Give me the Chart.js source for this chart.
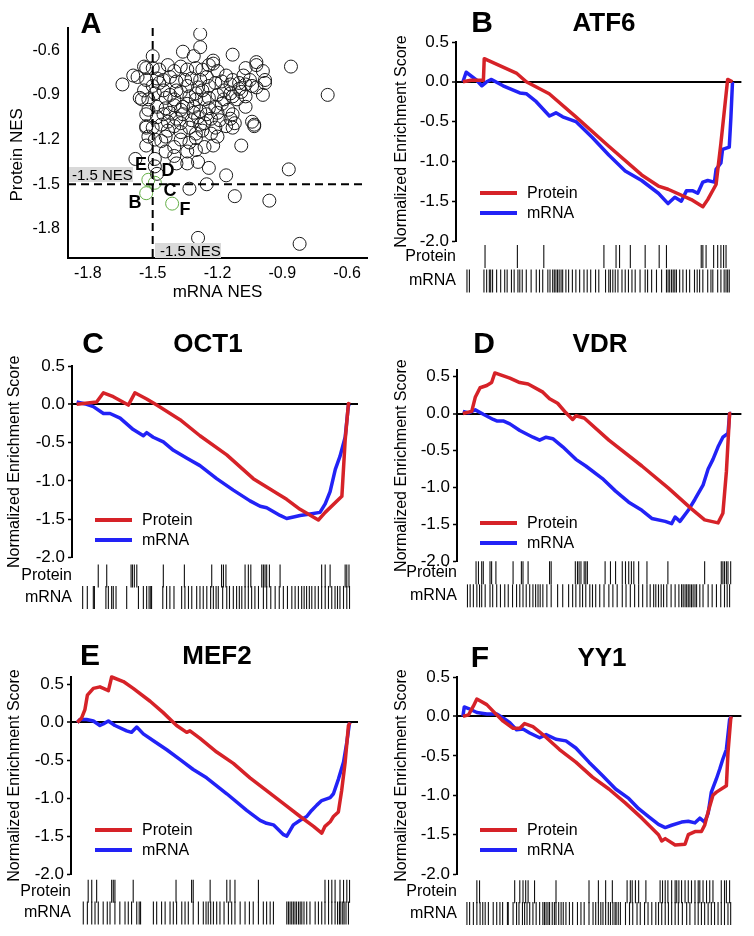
<!DOCTYPE html>
<html>
<head>
<meta charset="utf-8">
<script src="https://cdn.jsdelivr.net/npm/chart.js@4.4.0/dist/chart.umd.min.js"></script>
<style>
  html,body{margin:0;padding:0;background:#fff;}
  body{width:754px;height:936px;position:relative;overflow:hidden;font-family:"Liberation Sans",Arial,Helvetica,sans-serif;color:#000;}
  .panel{position:absolute;}
  .panel canvas{display:block;}
  .t{position:absolute;transform:translate(-50%,-50%);font-weight:bold;line-height:1;white-space:nowrap;z-index:5;}
  .legline{position:absolute;height:4px;width:37px;z-index:5;}
  .legtxt{position:absolute;font-size:16px;line-height:1;transform:translateY(-50%);white-space:nowrap;z-index:5;}
  .nesbox{position:absolute;background:#d9d9d9;font-size:15px;line-height:15px;height:15px;white-space:nowrap;z-index:4;}
</style>
</head>
<body>
<div class="panel" style="left:0;top:0"><canvas id="cA" width="377" height="310"></canvas></div>
<div class="panel" style="left:377px;top:0"><canvas id="cB" width="377" height="310"></canvas></div>
<div class="panel" style="left:0;top:310px"><canvas id="cC" width="377" height="310"></canvas></div>
<div class="panel" style="left:377px;top:310px"><canvas id="cD" width="377" height="310"></canvas></div>
<div class="panel" style="left:0;top:620px"><canvas id="cE" width="377" height="316"></canvas></div>
<div class="panel" style="left:377px;top:620px"><canvas id="cF" width="377" height="316"></canvas></div>

<div class="nesbox" style="left:69px;top:167px;width:61px;padding-left:3px">-1.5 NES</div>
<div class="nesbox" style="left:155px;top:243px;width:61px;padding-left:5px">-1.5 NES</div>

<script>
// ---------------- Panel A data (NES values) ----------------
const scatterMrnaNES = [
  -1.28,-1.28,-1.36,-1.31,-1.13,-1.22,-1.22,-1.02,-1.02,-0.86,
  -1.07,-0.99,-1.08,-0.69,-0.98,-0.98,-0.99,-1.07,-1.04,-1.03,
  -1.03,-1.09,-1.64,-1.59,-1.55,-1.52,-1.53,-1.50,-1.53,-1.52,
  -1.53,-1.58,-1.49,-1.49,-1.48,-1.39,-1.34,-1.29,-1.24,-1.16,
  -1.25,-1.33,-1.12,-0.96,-0.87,-1.29,-0.82,
  -1.54,-1.50,-1.47,-1.43,-1.40,-1.37,-1.34,-1.30,-1.27,-1.24,-1.20,-1.16,-1.13,-1.10,-1.07,-1.04,-1.02,
  -1.57,-1.53,-1.48,-1.45,-1.42,-1.39,-1.35,-1.32,-1.28,-1.25,-1.21,-1.18,-1.14,-1.10,
  -1.56,-1.49,-1.45,-1.42,-1.40,-1.37,-1.33,-1.30,-1.27,-1.24,-1.20,-1.17,-1.14,-1.11,-1.07,
  -1.48,-1.44,-1.40,-1.37,-1.34,-1.31,-1.28,-1.24,-1.21,-1.18,-1.15,-1.13,
  -1.53,-1.48,-1.45,-1.43,-1.39,-1.36,-1.32,-1.29,-1.26,-1.23,-1.19,-1.14,-1.12,
  -1.50,-1.46,-1.43,-1.40,-1.37,-1.33,-1.30,-1.27,-1.23,-1.20,-1.16,-1.13,
  -1.49,-1.46,-1.44,-1.40,-1.37,-1.33,-1.30,-1.26,-1.22,-1.34,-1.44,
  -1.40,-1.30,-1.53,-1.54,-1.50,-1.52,
  -1.39,-1.34,-1.30,-1.26,-1.36,-1.42,-1.31,-1.25,-1.20,-1.37,-1.28,-1.21,-1.17,-1.13,-1.09,-1.05,-1.44,-1.47,-1.29,-1.24
];
const scatterProteinNES = [
  -0.49,-0.58,-0.61,-0.64,-0.63,-0.67,-0.69,-0.68,-0.70,-0.71,
  -0.72,-0.74,-0.77,-0.90,-0.80,-0.82,-0.90,-0.98,-1.08,-1.10,
  -1.11,-1.24,-0.83,-0.77,-0.93,-0.93,-0.72,-0.64,-1.12,-1.18,
  -1.24,-1.33,-1.33,-1.38,-1.43,-1.36,-1.36,-1.35,-1.39,-1.44,
  -1.50,-1.53,-1.58,-1.61,-1.40,-1.86,-1.90,
  -0.71,-0.72,-0.73,-0.70,-0.74,-0.71,-0.73,-0.72,-0.73,-0.70,-0.74,-0.77,-0.80,-0.82,-0.83,-0.84,-0.85,
  -0.78,-0.80,-0.79,-0.80,-0.78,-0.81,-0.80,-0.79,-0.80,-0.78,-0.82,-0.81,-0.83,-0.86,
  -0.92,-0.89,-0.87,-0.90,-0.93,-0.88,-0.91,-0.89,-0.87,-0.92,-0.90,-0.87,-0.89,-0.93,-0.91,
  -0.98,-0.99,-0.97,-1.00,-0.96,-0.98,-1.01,-0.99,-0.98,-0.96,-1.00,-1.03,
  -1.03,-1.05,-1.03,-1.08,-1.06,-1.03,-1.07,-1.05,-1.09,-1.06,-1.07,-1.06,-1.09,
  -1.12,-1.10,-1.14,-1.11,-1.15,-1.12,-1.16,-1.14,-1.16,-1.18,-1.11,-1.12,
  -1.20,-1.21,-1.18,-1.25,-1.20,-1.22,-1.19,-1.25,-1.24,-1.28,-1.28,
  -1.31,-1.27,-1.11,-0.87,-0.84,-1.00,
  -0.87,-0.84,-0.93,-0.93,-0.98,-1.02,-1.02,-1.03,-1.02,-1.09,-1.10,-1.12,-0.93,-0.91,-0.88,-0.80,-0.92,-0.82,-0.85,-0.84
];
const highlightMrnaNES    = [-1.52, -1.49, -1.53, -1.41];
const highlightProteinNES = [-1.47, -1.49, -1.56, -1.63];
const highlightNames      = ['E', 'D', 'B', 'F'];
const scatterXTicks = [-1.8, -1.5, -1.2, -0.9, -0.6];
const scatterYTicks = [-0.6, -0.9, -1.2, -1.5, -1.8];
const nesCutoff = -1.5;

// ---------------- Enrichment panels (rank %, ES) ----------------
const esTicks = [0.5, 0, -0.5, -1, -1.5, -2];
const seriesNames = ['Protein', 'mRNA'];

// ATF6
const atf6ProteinRank = [0,3,7.6,7.9,19.8,23.5,32,41.9,54.1,66.3,72.5,76.1,84.7,89,90.8,93.9,95.7,98.2,100];
const atf6ProteinES   = [0,0.02,0.02,0.29,0.11,0,-0.15,-0.44,-0.81,-1.17,-1.31,-1.35,-1.48,-1.57,-1.48,-1.29,-0.77,0.03,0];
const atf6MrnaRank = [0,1.2,5.1,7,8.8,10.6,14.9,21.1,23.5,27.2,32.1,34.5,37,41.9,48,54.1,60.2,66.3,72.5,76.1,78.6,81,82.9,85.3,87.1,89,90.8,93.3,93.9,95.7,96.3,98.8,99.4,100];
const atf6MrnaES   = [0,0.12,0.02,-0.05,0,0.03,-0.05,-0.14,-0.15,-0.25,-0.43,-0.39,-0.44,-0.5,-0.7,-0.92,-1.12,-1.24,-1.4,-1.53,-1.45,-1.5,-1.37,-1.37,-1.4,-1.26,-1.24,-1.26,-1.1,-1.02,-0.85,-0.82,-0.45,0];
const atf6ProteinHits = [8.2,20.2,30,52.3,56.8,58.1,62.1,67.6,72.8,75.5,88.4,89,90.2,93,94.5,95.7,96.7,97.6];
const atf6MrnaHits = [1.5,2.4,7.8,8.8,9.8,10.3,11,12.5,14,15.5,16.4,18,19,20.4,21.1,22,23.5,25.3,27.2,28.4,29.6,31.5,32.3,33.3,33.9,34.5,35.1,35.7,36.4,37,38.2,39.2,40.6,41.9,43.3,44.9,46.1,47.4,49.2,50.4,52.9,54.1,54.7,55.6,56.5,57.5,59,60.2,61.4,62.7,63.9,65.7,67.6,68.5,70,71.8,73.7,75.5,76.1,76.7,77.4,78,78.6,79.2,80.4,81.6,82.9,84.1,85.9,86.9,87.8,89,90.8,92,92.7,94.5,95.7,96.9,97.6,98.2,98.8];

// OCT1
const oct1ProteinRank = [0,7.3,9.8,13.4,18.9,21.3,25.6,29.3,37.8,45.1,54.9,64.6,69.5,73.2,76.8,81.7,88.4,90.9,97,98.2,99.4,100];
const oct1ProteinES   = [0,0.03,0.15,0.1,-0.01,0.15,0.07,-0.01,-0.2,-0.41,-0.66,-0.97,-1.08,-1.16,-1.24,-1.37,-1.51,-1.41,-1.2,-0.47,0.01,0];
const oct1MrnaRank = [0,3.7,6.1,9.8,12.2,15.9,20.7,24.4,25.6,28,31.7,35.4,40.2,45.1,51.2,57.3,63.4,67.1,69.5,74.4,76.8,79.3,81.7,85.4,89,90.9,92.7,94.6,96.3,98.2,99.4,100];
const oct1MrnaES   = [0.03,0,-0.03,-0.12,-0.12,-0.18,-0.33,-0.41,-0.37,-0.43,-0.49,-0.6,-0.7,-0.8,-0.97,-1.12,-1.26,-1.33,-1.35,-1.45,-1.49,-1.47,-1.45,-1.43,-1.41,-1.3,-1.14,-0.85,-0.68,-0.43,-0.01,0];
const oct1ProteinHits = [7.9,11,19.9,20.4,21.1,22,31.7,39.4,49.4,53,53.7,54.6,61.6,62.8,63.7,67.7,68.3,68.9,69.5,70.5,74.4,89.6,90.9,92.7,98.2,98.8,99.6];
const oct1MrnaHits = [2.2,3.9,6.1,6.5,10.7,11.6,12.8,13.4,14.4,18.3,22.6,24.4,25.6,26.5,27.1,27.4,31.5,32.9,34.1,35.6,38.4,39.6,40.9,42.1,43.9,45.1,46.3,47.6,49,50,51,51.8,53.4,54.9,55.9,57.3,58.5,59.5,60.4,61.6,62.8,64,65.2,66.5,68.3,69.5,71,72.6,74.1,75.6,77.1,78.7,79.9,81.1,82.3,83.2,84.1,85.1,86,87.2,88.4,89.6,90.9,92.1,93.3,94.5,95.4,96.3,97.6,98.8,99.8];

// VDR
const vdrProteinRank = [0,3.3,4.6,6.4,8.9,10.7,11.9,17.5,21.2,24.3,29.8,32.3,35.3,38.4,40.9,42.1,45.2,54.4,66.7,76.6,85.2,90.1,95.1,96.9,98.2,99.4,100];
const vdrProteinES   = [0,0.03,0.22,0.35,0.38,0.42,0.55,0.48,0.42,0.4,0.29,0.2,0.14,0.01,-0.08,-0.03,-0.06,-0.36,-0.71,-1.01,-1.29,-1.44,-1.48,-1.35,-0.79,0,0];
const vdrMrnaRank = [0,2.1,4.6,7.6,11.3,12.6,15,17.5,21.2,26.1,28.6,31,33.5,37.2,42.1,45.8,52,56.9,61.8,66.7,70.4,75.4,77.8,79.1,80.9,84,86.5,89.5,91.4,93.2,95.1,96.9,98.8,99.4,100];
const vdrMrnaES   = [0.03,0.01,0.05,-0.01,-0.08,-0.1,-0.1,-0.14,-0.23,-0.32,-0.36,-0.32,-0.34,-0.45,-0.62,-0.71,-0.88,-1.05,-1.2,-1.31,-1.42,-1.46,-1.49,-1.4,-1.46,-1.31,-1.16,-0.97,-0.75,-0.62,-0.45,-0.32,-0.27,0,0];
const vdrProteinHits = [4.9,5.8,7,7.6,10.1,10.7,12.3,18.7,21.8,22.4,24.3,32.3,32.9,41.9,42.7,43.3,44,45.2,45.8,46.4,53,55,56.9,59.4,60.6,61.8,62.8,63.7,65.5,68.6,76.4,90.1,96.3,96.9,97.5,98.2,98.8,99.8];
const vdrMrnaHits = [1.7,2.7,3.9,5.2,6.2,7,8.3,10.1,11.1,12.6,14,15.6,16.9,18.5,20,21.2,22.4,23.6,24.9,26.1,27.1,28,28.8,29.8,31.3,32.9,35.3,37.2,39.4,40.9,42.1,43.6,44.6,45.8,47.3,48.3,49.5,51,52.6,54.4,55.9,57.5,59.4,60.8,62.4,64,65.5,67,68.6,69.8,71.1,71.9,72.9,73.9,74.8,76,77.6,79.1,80.5,81.5,82.1,82.8,83.4,84,84.6,85.2,85.8,86.5,87.1,88.3,89.5,91.4,92.9,94.5,96.1,97.5,98.5,99.4];

// MEF2
const mef2ProteinRank = [0,1.6,2.8,3.7,5.9,8.3,10.8,11.4,12.6,16.9,20.5,26.7,31.5,36.4,40.1,41.3,45,51.1,57.2,63.3,69.4,75.6,81.7,86.6,89.6,90.8,92.7,93.9,95.7,96.9,98.2,99.4,100];
const mef2ProteinES   = [0,0.06,0.17,0.36,0.45,0.47,0.43,0.42,0.6,0.54,0.45,0.28,0.13,-0.04,-0.13,-0.11,-0.21,-0.39,-0.54,-0.73,-0.9,-1.07,-1.24,-1.37,-1.46,-1.37,-1.31,-1.24,-1.18,-0.9,-0.52,-0.04,0];
const mef2MrnaRank = [0,1,3.4,5.9,8.3,9.5,11.4,13.8,18.1,19.9,21.8,24.2,27.9,32.8,37.7,42.5,47.4,54.8,62.1,67,69.4,71.9,75.6,76.8,79.2,81.7,84.1,85.9,87.8,89.6,92.7,93.9,95.7,97.6,98.8,99.8];
const mef2MrnaES   = [0,0.04,0.04,0.02,-0.04,-0.02,0.02,-0.04,-0.11,-0.13,-0.06,-0.15,-0.24,-0.36,-0.49,-0.62,-0.73,-0.94,-1.16,-1.29,-1.33,-1.35,-1.48,-1.5,-1.35,-1.29,-1.24,-1.16,-1.09,-1.03,-0.99,-0.94,-0.75,-0.52,-0.26,0];
const mef2ProteinHits = [4,5.3,7.1,12.6,13.2,13.8,20.5,36.2,41.9,42.5,48.7,54.8,56,57.8,66.4,90.8,92.1,93.3,94.5,96.3,97.6,98.8,99.8];
const mef2MrnaHits = [2.2,3.7,5.3,6.5,7.7,9.5,11,12,13.8,15.6,17.5,18.7,19.9,21.8,22.7,23.2,27.9,29.1,30.9,32.2,34,35.2,36.4,38.3,39.5,40.7,42.5,44.4,46.2,47.2,48,48.9,49.9,51.1,52.3,53.8,55.4,56.6,57.8,59.7,61.5,63.1,64.5,66.4,68.2,69.4,70.7,71.9,76.8,77.4,78,78.6,79.2,79.8,80.4,81.1,81.7,82.3,83.1,84.1,85.3,87.2,88.4,89.6,90.8,92.1,93.3,94.5,95.4,96.1,96.6,97.3,97.8,98.5,99.4];

// YY1
const yy1ProteinRank = [0,2.1,3.9,5.2,8.9,12.6,15,18.7,21.2,23,26.1,29.8,36,42.1,48.3,54.4,60.6,66.7,72.9,74.1,75.4,79.1,82.8,84,86.5,88.9,90.1,91.4,93.2,94.5,98.2,98.8,99.8,100];
const yy1ProteinES   = [0,0.02,0.13,0.22,0.15,0.02,-0.06,-0.15,-0.15,-0.09,-0.13,-0.23,-0.42,-0.58,-0.77,-0.92,-1.1,-1.29,-1.5,-1.58,-1.55,-1.63,-1.62,-1.5,-1.46,-1.46,-1.38,-1.21,-1.0,-0.96,-0.88,-0.46,-0.04,0];
const yy1MrnaRank = [0,0.5,2.1,5.2,8.9,12.6,15,17.5,20,22.4,24.9,28.6,31,34.7,38.4,42.1,47,52,56.9,61.8,65.5,69.2,72.9,75.4,77.8,81.5,84,86.5,88.3,90.1,91.4,92.6,94.5,95.7,96.9,98.2,99.4,100];
const yy1MrnaES   = [0,0.12,0.1,0.05,0.03,0.03,-0.02,-0.08,-0.17,-0.16,-0.21,-0.27,-0.23,-0.29,-0.31,-0.4,-0.58,-0.75,-0.92,-1.04,-1.17,-1.27,-1.37,-1.41,-1.38,-1.34,-1.33,-1.35,-1.29,-1.34,-1.23,-0.96,-0.79,-0.67,-0.54,-0.42,-0.04,0];
const yy1ProteinHits = [5.2,6.2,19.3,21.2,22.4,23.4,24.3,26.7,34.7,47,50.5,53.2,55.7,61.2,62.4,63.1,64.3,65.5,68.2,73.5,74.4,75.4,76.4,77.8,79.1,79.7,80.5,81.5,82.8,84,85.2,86.5,87.7,88.3,89.5,90.8,92,93.2,96.3,97.5,98.2,99.4];
const yy1MrnaHits = [1.5,2.5,3.9,5.2,6.4,7.4,8.3,9.5,11.3,12.6,13.8,14.8,16.6,16.9,18.7,20,20.9,22.2,23,23.9,24.9,26.1,27.3,28.6,29.8,30.4,31,31.7,32.3,33.3,34.1,34.7,35.7,36.6,37.4,38.4,39.7,40.9,42.7,44,45.2,47,48.5,49.5,50.5,51.4,52.2,53.2,54.2,55,55.9,56.7,57.1,57.9,58.7,60.6,62.1,63.3,64.9,66.1,67.7,69,70.4,71.9,72.9,74.1,75.4,76.6,77.8,79.1,80.3,81.8,83.4,84.6,86.5,87.7,88.9,90.1,91.4,92.6,93.8,95.1,96.3,97.5,98.8,99.8];

// ---------------- styling / layout ----------------
const RED = 'rgb(214,34,40)';
const BLUE = 'rgb(34,34,246)';
const GREEN = 'rgb(100,175,70)';
Chart.defaults.font.family = '"Liberation Sans", Arial, Helvetica, sans-serif';
Chart.defaults.color = '#000';
Chart.defaults.animation = false;

function zip(xs, ys) {
  const n = Math.min(xs.length, ys.length), out = [];
  for (let i = 0; i < n; i++) out.push({x: xs[i], y: ys[i]});
  return out;
}
function rowOf(xs, row) { return xs.map(x => ({x: x, y: row})); }
function noPad(sc) { sc.paddingTop = 0; sc.paddingBottom = 0; sc.paddingLeft = 0; sc.paddingRight = 0; }

// ---------- Panel A ----------
(function () {
  const xMin = -1.892, xMax = -0.508, yMin = -1.995, yMax = -0.451;
  new Chart(document.getElementById('cA'), {
    type: 'scatter',
    data: {datasets: [
      {label: 'cutoff-v', data: [{x: nesCutoff, y: yMax}, {x: nesCutoff, y: yMin}], showLine: true,
       borderColor: '#000', borderWidth: 2, borderDash: [8, 5], pointRadius: 0, clip: false},
      {label: 'cutoff-h', data: [{x: xMin, y: nesCutoff}, {x: xMax, y: nesCutoff}], showLine: true,
       borderColor: '#000', borderWidth: 2, borderDash: [8, 5], pointRadius: 0, clip: false},
      {label: 'highlighted', data: zip(highlightMrnaNES, highlightProteinNES), pointRadius: 6.5,
       pointBorderColor: GREEN, pointBackgroundColor: 'rgba(0,0,0,0)', pointBorderWidth: 1},
      {label: 'TFs', data: zip(scatterMrnaNES, scatterProteinNES), pointRadius: 6.5,
       pointBorderColor: '#1a1a1a', pointBackgroundColor: 'rgba(0,0,0,0)', pointBorderWidth: 1}
    ]},
    options: {
      responsive: false, animation: false, events: [],
      layout: {padding: {left: 0, top: 28, right: 10, bottom: 0}},
      plugins: {legend: {display: false}, tooltip: {enabled: false}},
      scales: {
        x: {type: 'linear', min: xMin, max: xMax,
            afterBuildTicks: sc => { sc.ticks = scatterXTicks.map(v => ({value: v})); },
            afterFit: sc => { sc.height = 52; noPad(sc); },
            ticks: {autoSkip: false, maxRotation: 0, padding: 6, font: {size: 16}, callback: v => Number(v).toFixed(1)},
            grid: {display: false, drawTicks: false},
            border: {display: true, color: '#000', width: 2},
            title: {display: true, text: 'mRNA NES', font: {size: 17}, padding: {top: 0, bottom: 7}}},
        y: {type: 'linear', min: yMin, max: yMax,
            afterBuildTicks: sc => { sc.ticks = scatterYTicks.map(v => ({value: v})); },
            afterFit: sc => { sc.width = 68; noPad(sc); },
            ticks: {autoSkip: false, padding: 8, font: {size: 16}, callback: v => Number(v).toFixed(1)},
            grid: {display: false, drawTicks: false},
            border: {display: true, color: '#000', width: 2},
            title: {display: true, text: 'Protein NES     ', font: {size: 17}, padding: {top: 7, bottom: 0}}}
      }
    }
  });
})();

// ---------- Enrichment panels ----------
function makeES(id, s, L) {
  new Chart(document.getElementById(id), {
    type: 'scatter',
    data: {datasets: [
      {label: seriesNames[0], data: zip(s.pX, s.pES), showLine: true, borderColor: RED, borderWidth: 3.5,
       pointRadius: 0, yAxisID: 'y', clip: false, borderJoinStyle: 'round'},
      {label: seriesNames[1], data: zip(s.mX, s.mES), showLine: true, borderColor: BLUE, borderWidth: 3.5,
       pointRadius: 0, yAxisID: 'y', clip: false, borderJoinStyle: 'round'},
      {label: seriesNames[0] + ' hits', data: rowOf(s.pHits, L.pRow), yAxisID: 'yb', pointStyle: 'line',
       pointRotation: 90, pointRadius: 11.5, pointBorderWidth: 1.1, pointBorderColor: '#111', clip: false},
      {label: seriesNames[1] + ' hits', data: rowOf(s.mHits, L.mRow), yAxisID: 'yb', pointStyle: 'line',
       pointRotation: 90, pointRadius: 11.5, pointBorderWidth: 1.1, pointBorderColor: '#111', clip: false}
    ]},
    options: {
      responsive: false, animation: false, events: [],
      layout: {padding: {left: 0, top: L.top, right: L.W - L.R, bottom: L.H - L.bottom}},
      plugins: {legend: {display: false}, tooltip: {enabled: false}},
      scales: {
        x: {type: 'linear', min: L.xMin, max: L.xMax, display: false},
        y: {type: 'linear', position: 'left', stack: 'es', stackWeight: L.ym2 - L.top, weight: 2,
            min: -2, max: L.yTop,
            afterBuildTicks: sc => { sc.ticks = esTicks.map(v => ({value: v})); },
            afterFit: sc => { sc.width = L.L; noPad(sc); },
            ticks: {autoSkip: false, padding: 3, font: {size: 17}, callback: v => Number(v).toFixed(1)},
            grid: {drawOnChartArea: true, drawTicks: true, tickLength: 4, tickWidth: 1.5, tickColor: '#000',
                   color: c => (c.tick && c.tick.value === 0) ? '#000' : 'rgba(0,0,0,0)',
                   lineWidth: c => (c.tick && c.tick.value === 0) ? 2 : 1},
            border: {display: true, color: '#000', width: 2},
            title: {display: true, text: 'Normalized Enrichment Score', font: {size: 16},
                    padding: {top: L.titlePad, bottom: 0}}},
        yb: {type: 'linear', position: 'left', stack: 'es', stackWeight: L.bottom - L.ym2, weight: 1,
             min: 0, max: 1, reverse: true,
             afterBuildTicks: sc => { sc.ticks = [{value: L.pRow}, {value: L.mRow}]; },
             afterFit: sc => { sc.width = L.L; noPad(sc); },
             ticks: {autoSkip: false, padding: 0, font: {size: 16}, callback: (v, i) => seriesNames[i]},
             grid: {display: false, drawTicks: false},
             border: {display: false}}
      }
    }
  });
}

const panels = [
  {id: 'cB', letter: 'B', name: 'ATF6', ox: 377, oy: 0,
   s: {pX: atf6ProteinRank, pES: atf6ProteinES, mX: atf6MrnaRank, mES: atf6MrnaES, pHits: atf6ProteinHits, mHits: atf6MrnaHits},
   L: {W: 377, H: 310, L: 79, R: 367, top: 42, ym2: 241, bottom: 293, yTop: 0.5, xMin: -2.57, xMax: 103.3, pRow: 0.3, mRow: 0.77, titlePad: 15},
   letterPos: [105, 22], namePos: [227, 22], legPos: [103, 193]},
  {id: 'cC', letter: 'C', name: 'OCT1', ox: 0, oy: 310,
   s: {pX: oct1ProteinRank, pES: oct1ProteinES, mX: oct1MrnaRank, mES: oct1MrnaES, pHits: oct1ProteinHits, mHits: oct1MrnaHits},
   L: {W: 377, H: 310, L: 72, R: 358, top: 56, ym2: 256, bottom: 308, yTop: 0.5, xMin: -1.7, xMax: 102.9, pRow: 0.37, mRow: 0.8, titlePad: 5},
   letterPos: [93, 33], namePos: [208, 33], legPos: [95, 210]},
  {id: 'cD', letter: 'D', name: 'VDR', ox: 377, oy: 310,
   s: {pX: vdrProteinRank, pES: vdrProteinES, mX: vdrMrnaRank, mES: vdrMrnaES, pHits: vdrProteinHits, mHits: vdrMrnaHits},
   L: {W: 377, H: 310, L: 80, R: 367, top: 60, ym2: 259, bottom: 307, yTop: 0.59, xMin: -2.2, xMax: 103.8, pRow: 0.25, mRow: 0.75, titlePad: 15},
   letterPos: [107, 33], namePos: [223, 33], legPos: [103, 213]},
  {id: 'cE', letter: 'E', name: 'MEF2', ox: 0, oy: 620,
   s: {pX: mef2ProteinRank, pES: mef2ProteinES, mX: mef2MrnaRank, mES: mef2MrnaES, pHits: mef2ProteinHits, mHits: mef2MrnaHits},
   L: {W: 377, H: 316, L: 71, R: 358, top: 57, ym2: 257, bottom: 307, yTop: 0.6, xMin: -2.3, xMax: 102.9, pRow: 0.35, mRow: 0.79, titlePad: 5},
   letterPos: [90, 35], namePos: [217, 35], legPos: [95, 210]},
  {id: 'cF', letter: 'F', name: 'YY1', ox: 377, oy: 620,
   s: {pX: yy1ProteinRank, pES: yy1ProteinES, mX: yy1MrnaRank, mES: yy1MrnaES, pHits: yy1ProteinHits, mHits: yy1MrnaHits},
   L: {W: 377, H: 316, L: 80, R: 367, top: 57, ym2: 257, bottom: 307, yTop: 0.5, xMin: -2.2, xMax: 103.8, pRow: 0.36, mRow: 0.8, titlePad: 15},
   letterPos: [103, 37], namePos: [225, 37], legPos: [103, 210]}
];

function addText(cls, text, x, y, size) {
  const d = document.createElement('div');
  d.className = cls; d.textContent = text;
  d.style.left = x + 'px'; d.style.top = y + 'px';
  if (size) d.style.fontSize = size + 'px';
  document.body.appendChild(d);
  return d;
}

// Panel A letter and highlight labels
addText('t', 'A', 91, 23, 29);
[['E', 141, 164], ['D', 168, 170], ['C', 170, 190], ['B', 135, 202], ['F', 185, 209]].forEach(a => addText('t', a[0], a[1], a[2], 18));

panels.forEach(p => {
  makeES(p.id, p.s, p.L);
  addText('t', p.letter, p.ox + p.letterPos[0], p.oy + p.letterPos[1], 30);
  addText('t', p.name, p.ox + p.namePos[0], p.oy + p.namePos[1], 26);
  const colors = [RED, BLUE];
  seriesNames.forEach((nm, i) => {
    const lx = p.ox + p.legPos[0], ly = p.oy + p.legPos[1] + i * 20;
    const ln = document.createElement('div');
    ln.className = 'legline'; ln.style.left = lx + 'px'; ln.style.top = (ly - 2) + 'px'; ln.style.background = colors[i];
    document.body.appendChild(ln);
    addText('legtxt', nm, lx + 47, ly, 16);
  });
});
</script>
</body>
</html>
